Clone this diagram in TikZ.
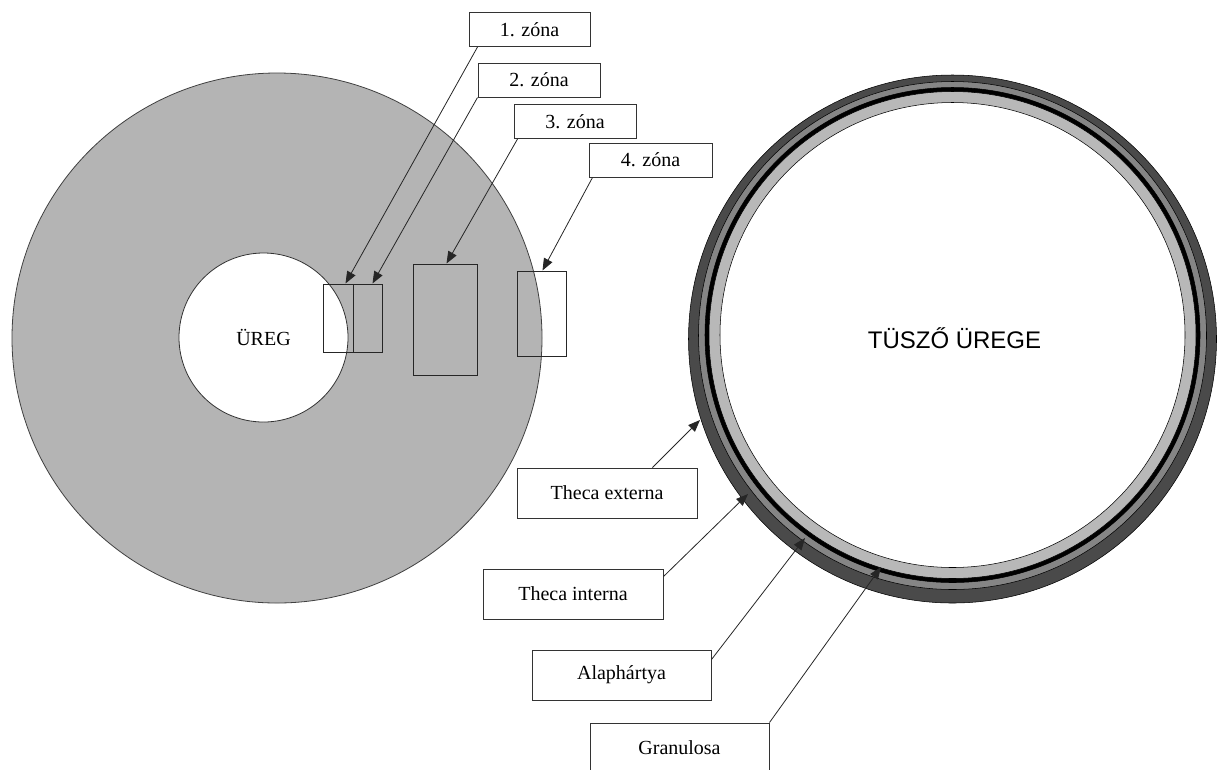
\documentclass[tikz,border=0pt]{standalone}
\usepackage{fontspec}
\setmainfont{Liberation Serif}
\newfontfamily\arialf{Liberation Sans}
\usetikzlibrary{arrows.meta,calc}
\definecolor{discgray}{HTML}{B4B4B4}
\definecolor{ringdark}{HTML}{4A4A4A}
\definecolor{ringmid}{HTML}{858585}
\definecolor{ringlight}{HTML}{B8B8B8}
\begin{document}
\begin{tikzpicture}[x=0.75pt,y=-0.75pt,
  lbox/.style 2 args={draw=black!80, line width=0.75pt, fill=white,
    minimum width=#1*0.75pt, minimum height=#2*0.75pt, inner sep=0pt,
    font=\fontsize{15}{18}\selectfont},
  zrect/.style 2 args={draw=black!85, line width=0.75pt,
    minimum width=#1*0.75pt, minimum height=#2*0.75pt, inner sep=0pt},
  conn/.style={draw=black!85, line width=0.6pt, -{Triangle[length=9pt,width=7pt]}},
  ring/.style={draw=black, line width=0.4pt},
]
\useasboundingbox (0,0) rectangle (1217,769);
\clip (0,0) rectangle (1217,769);

% left disc
\node[circle, draw=black!75, line width=0.6pt, fill=discgray, minimum size=530*0.75pt, inner sep=0pt] (disc) at (277,338) {};
\node[circle, draw=black!80, line width=0.6pt, fill=white, minimum size=169*0.75pt, inner sep=0pt,
  font=\fontsize{15}{18}\selectfont] (ureg) at (263.5,337.5) {ÜREG};

% zone rectangles
\node[zrect={30}{68}] (zr1) at (338,318) {};
\node[zrect={29}{68}] (zr2) at (367.5,318) {};
\node[zrect={64}{111}] (zr3) at (445,319.5) {};
\node[zrect={49}{85}] (zr4) at (541.5,313.5) {};

% zone labels
\node[lbox={121}{34}] (z1) at (529.5,29.5) {1. zóna};
\node[lbox={122}{34}] (z2) at (539,80) {2. zóna};
\node[lbox={122}{34}] (z3) at (575,121.5) {3. zóna};
\node[lbox={123}{34}] (z4) at (650.5,160) {4. zóna};

\draw[conn] ($(z1.south west)+(9,0)$) -- ($(zr1.north west)+(23,0)$);
\draw[conn] (z2.south west) -- ($(zr2.north west)+(20,0)$);
\draw[conn] ($(z3.south west)+(4,0)$) -- ($(zr3.north west)+(34,0)$);
\draw[conn] ($(z4.south west)+(4,0)$) -- ($(zr4.north west)+(26,0)$);

% right follicle rings
\node[circle, ring, fill=ringdark, minimum size=528*0.75pt, inner sep=0pt] (r0) at (952.5,339) {};
\node[circle, ring, fill=ringmid, minimum size=508*0.75pt, inner sep=0pt] (r1) at (952.5,335.5) {};
\node[circle, ring, fill=black, minimum size=495*0.75pt, inner sep=0pt] (r2) at (952.5,335) {};
\node[circle, ring, fill=ringlight, minimum size=487*0.75pt, inner sep=0pt] (r3) at (952.5,335) {};
\node[circle, ring, fill=white, minimum size=465*0.75pt, inner sep=0pt,
  font=\arialf\fontsize{18}{21}\selectfont] (cav) at (952.5,335) {};
\node[font=\arialf\fontsize{18}{21}\selectfont] (cavtxt) at (954.5,338) {TÜSZŐ ÜREGE};

\coordinate (tExt) at (700,420);
\coordinate (tInt) at (748,494);
\coordinate (tAla) at (805,538);
\coordinate (tGra) at (881,567);

\node[lbox={180}{50}] (lext) at (607,493) {Theca externa};
\node[lbox={180}{50}] (lint) at (573,594) {Theca interna};
\node[lbox={179}{50}] (lala) at (621.5,675) {Alaphártya};
\node[lbox={179}{50}] (lgra) at (679.5,748) {Granulosa};

\draw[conn] ($(lext.north west)+(136,0)$) -- (tExt);
\draw[conn] ($(lint.north east)+(0,8)$) -- (tInt);
\draw[conn] ($(lala.north east)+(0,10)$) -- (tAla);
\draw[conn] (lgra.north east) -- (tGra);
\end{tikzpicture}
\end{document}
